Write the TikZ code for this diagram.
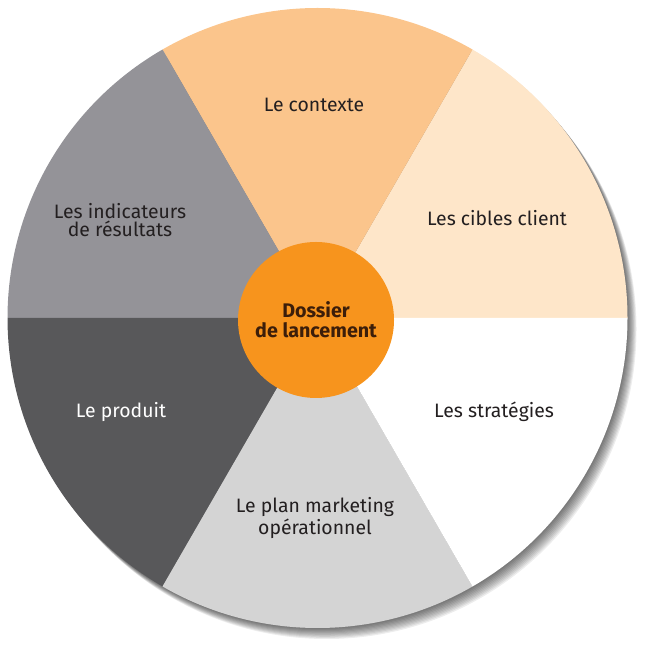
\documentclass[tikz,border=0pt]{standalone}
\usepackage{fontspec}
\setmainfont{Fira Sans}
\usetikzlibrary{positioning,calc}
\definecolor{contexte}{HTML}{FBC58C}
\definecolor{cibles}{HTML}{FEE6C9}
\definecolor{plan}{HTML}{D4D4D4}
\definecolor{produit}{HTML}{58585A}
\definecolor{indic}{HTML}{949398}
\definecolor{dossier}{HTML}{F7941D}
\definecolor{txt}{HTML}{231F20}
\definecolor{txtcenter}{HTML}{3C1E0A}
\tikzset{
    x=0.025cm,
    y=0.025cm,
    label/.style = {
        shape=rectangle,
        align=center,
        text=txt,
        inner sep=0pt,
        font=\fontsize{13.8}{13.4}\selectfont
    },
    hub/.style = {
        shape=circle,
        fill=dossier,
        minimum size=156*0.025cm,
        inner sep=0pt,
        align=center,
        text=txtcenter,
        font=\bfseries\fontsize{14}{14}\selectfont
    },
    sector/.style = {
        draw=none
    },
}

\begin{document}
\begin{tikzpicture}
    \useasboundingbox (0,0) rectangle (647,649);
    \coordinate (c) at (317.5,331);

    % shadow
    \foreach \s in {1,...,10}
        \fill[black, opacity=0.07] ($(c)+(0.9*\s,-1.1*\s)$) circle[radius=310];

    % sectors
    \fill[sector, cibles] (c) -- ++(0:310) arc[start angle=0, end angle=60, radius=310] -- cycle;
    \fill[sector, contexte] (c) -- ++(60:310) arc[start angle=60, end angle=120, radius=310] -- cycle;
    \fill[sector, indic] (c) -- ++(120:310) arc[start angle=120, end angle=180, radius=310] -- cycle;
    \fill[sector, produit] (c) -- ++(180:310) arc[start angle=180, end angle=240, radius=310] -- cycle;
    \fill[sector, plan] (c) -- ++(240:310) arc[start angle=240, end angle=300, radius=310] -- cycle;
    \fill[sector, white] (c) -- ++(300:310) arc[start angle=300, end angle=360, radius=310] -- cycle;

    \node[hub] (dossier) at (316,329) {Dossier\\de lancement};

    \node[label] (contexte) at (314,544) {Le contexte};
    \node[label] (cibles) at (497,431) {Les cibles client};
    \node[label] (strategies) at (494,237) {Les stratégies};
    \node[label] (plan) at (315,131) {Le plan marketing\\opérationnel};
    \node[label, text=white] (produit) at (121,237) {Le produit};
    \node[label] (indicateurs) at (120,429) {Les indicateurs\\de résultats};
\end{tikzpicture}
\end{document}
